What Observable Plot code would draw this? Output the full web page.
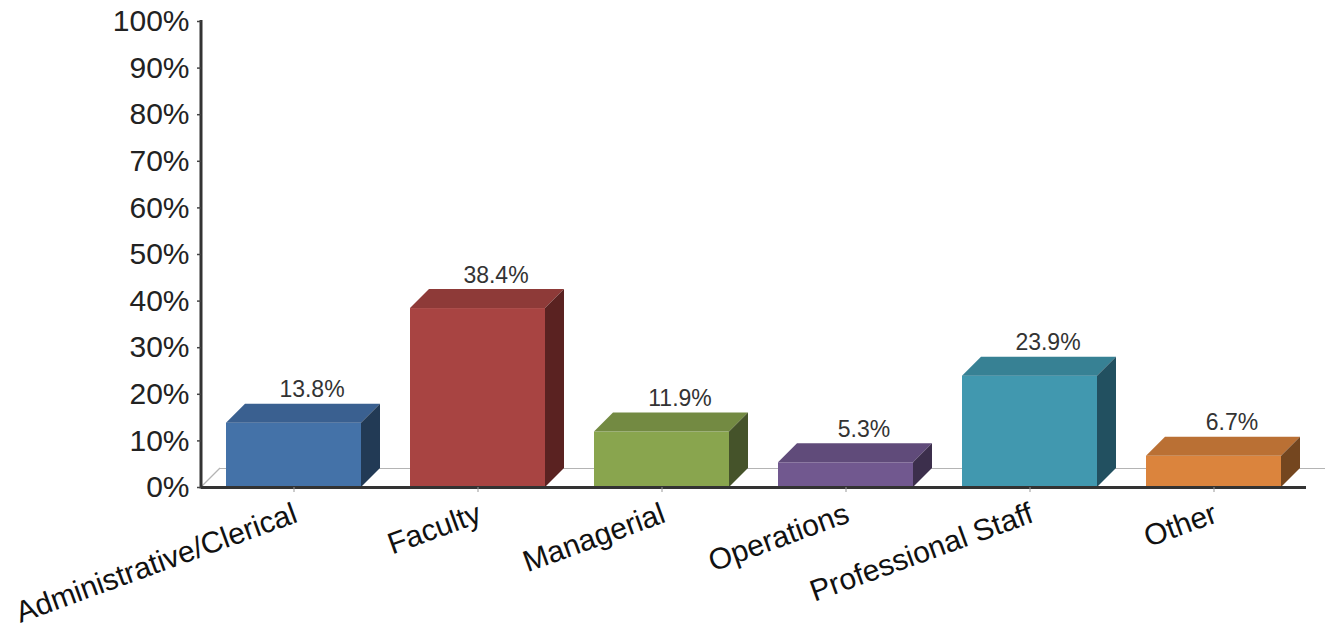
<!DOCTYPE html>
<html>
<head>
<meta charset="utf-8">
<script src="https://cdn.jsdelivr.net/npm/d3@7"></script>
<script src="https://cdn.jsdelivr.net/npm/@observablehq/plot@0.6"></script>
<style>
  body { margin: 0; background: #fff; }
  #chart svg { display: block; font-family: "Liberation Sans", Arial, sans-serif; }
</style>
</head>
<body>
<div id="chart"></div>
<script>
const categories = ["Administrative/Clerical", "Faculty", "Managerial", "Operations", "Professional Staff", "Other"];
const values = [13.8, 38.4, 11.9, 5.3, 23.9, 6.7];
const valueLabels = ["13.8%", "38.4%", "11.9%", "5.3%", "23.9%", "6.7%"];
const frontColors = ["#4472A8", "#A84442", "#89A54E", "#71588F", "#4198AF", "#DB843D"];
const topColors = ["#3A6090", "#8E3A38", "#738A42", "#604B7A", "#378194", "#BA7034"];
const sideColors = ["#223A55", "#5A2221", "#45532A", "#3C2F4C", "#225060", "#74461F"];
const yTicks = [0, 10, 20, 30, 40, 50, 60, 70, 80, 90, 100];

const data = categories.map((c, i) => ({
  category: c, value: values[i], label: valueLabels[i],
  front: frontColors[i], top: topColors[i], side: sideColors[i]
}));

const DEPTH = 19;

const bars3d = Plot.barY(data, {
  x: "category",
  y: "value",
  render(index, scales, values, dimensions) {
    const {x, y} = scales;
    const {marginLeft} = dimensions;
    const bw = x.bandwidth();
    const g = d3.create("svg:g");
    const y0 = y(0);
    // floor left edge (depth)
    g.append("line").attr("x1", marginLeft).attr("y1", y0).attr("x2", marginLeft + DEPTH).attr("y2", y0 - DEPTH)
      .attr("stroke", "#b4b4b4").attr("stroke-width", 1.2);
    for (const i of index) {
      const d = data[i];
      const x0 = x(d.category), x1 = x0 + bw, y1 = y(d.value);
      g.append("rect").attr("x", x0).attr("y", y1).attr("width", bw).attr("height", y0 - y1).attr("fill", d.front);
      g.append("polygon")
        .attr("points", [[x0, y1], [x0 + DEPTH, y1 - DEPTH], [x1 + DEPTH, y1 - DEPTH], [x1, y1]].map(p => p.join(",")).join(" "))
        .attr("fill", d.top);
      g.append("polygon")
        .attr("points", [[x1, y1], [x1 + DEPTH, y1 - DEPTH], [x1 + DEPTH, y0 - DEPTH], [x1, y0]].map(p => p.join(",")).join(" "))
        .attr("fill", d.side);
    }
    // y axis line
    g.append("line").attr("x1", marginLeft).attr("x2", marginLeft)
      .attr("y1", y(100) - 1).attr("y2", y0 + 1.5)
      .attr("stroke", "#333").attr("stroke-width", 3);
    return g.node();
  }
});

const chart = Plot.plot({
  width: 1336,
  height: 631,
  marginLeft: 201,
  marginRight: 30,
  marginTop: 21,
  marginBottom: 144,
  style: {fontFamily: "'Liberation Sans', Arial, sans-serif", background: "#fff"},
  x: {domain: categories, paddingInner: 0.267, paddingOuter: 0.133, label: null},
  y: {domain: [0, 100], label: null},
  marks: [
    Plot.ruleY([0], {dx: DEPTH, dy: -DEPTH, stroke: "#b4b4b4", strokeWidth: 1.2}),
    bars3d,
    Plot.ruleY([0], {stroke: "#333", strokeWidth: 3}),
    Plot.axisY({ticks: yTicks, tickFormat: d => d + "%", tickSize: 4, tickPadding: 8, fontSize: 30, color: "#222", stroke: "#444", strokeWidth: 1.5, label: null}),
    Plot.axisX({tickSize: 5, tickFormat: () => "", stroke: "#999", label: null}),
    Plot.text(data, {x: "category", y: d => 0, text: "category", rotate: -20, textAnchor: "end", lineAnchor: "bottom", dx: 5, dy: 34, fontSize: 30, fill: "#111"}),
    Plot.text(data, {x: "category", y: "value", text: "label", dx: 18, dy: -26, lineAnchor: "bottom", fontSize: 23, fill: "#333"})
  ]
});

document.getElementById("chart").append(chart);
</script>
</body>
</html>
